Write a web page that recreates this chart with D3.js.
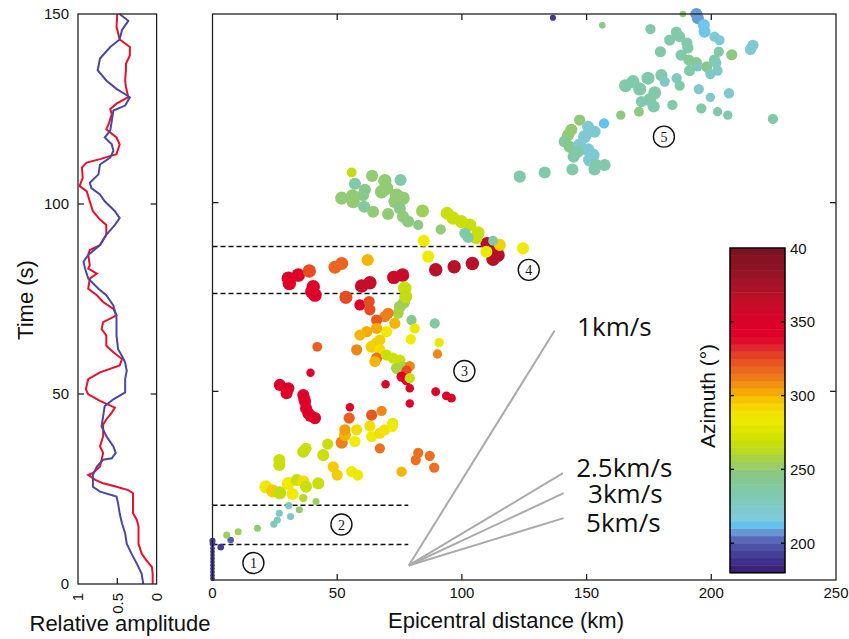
<!DOCTYPE html>
<html>
<head>
<meta charset="utf-8">
<script src="https://cdn.jsdelivr.net/npm/d3@7"></script>
<style>
  body { margin: 0; background: #fff; }
  text { font-family: "Liberation Sans", Arial, sans-serif; fill: #111; }
</style>
</head>
<body>
<svg id="chart" width="849" height="639"></svg>
<script>
/*
EPICENTRAL DISTANCE VS TIME, COLOURED BY AZIMUTH, WITH AMPLITUDE TRACES
*/

// ---- data: events as [distance km, time s, azimuth deg, magnitude] ----
const phase1 = [
  [0, 0.3, 190, 0.4], [0, 1.2, 190, 0.4], [0, 2.1, 190, 0.4], [0, 3.0, 192, 0.4],
  [0, 3.9, 190, 0.4], [0, 4.8, 192, 0.4], [0, 5.7, 190, 0.4], [0, 6.6, 192, 0.4],
  [0, 7.5, 190, 0.4], [0, 8.4, 192, 0.4], [0, 9.6, 190, 0.6], [0, 10.4, 192, 0.7],
  [3.3, 8.7, 192, 0.8], [7.3, 10.6, 200, 0.8]
];
const phase2 = [
  [5.7, 11.9, 255, 0.9], [10.3, 12.8, 255, 0.9], [18.0, 13.7, 250, 0.9], [24.6, 14.8, 232, 0.9],
  [26.0, 15.9, 228, 0.9], [26.8, 17.7, 225, 0.9], [31.3, 16.8, 225, 0.9], [30.6, 19.7, 228, 0.9],
  [34.8, 18.6, 252, 0.9], [41.5, 20.8, 255, 0.9], [36.4, 21.7, 262, 1.2]
];
const phase3 = [
  [21.4, 24.7, 283, 2.2], [24.1, 23.6, 296, 2.2], [27.0, 23.1, 265, 2.2], [30.4, 25.6, 285, 2.2],
  [32.1, 22.8, 285, 2.0], [33.8, 26.5, 268, 2.0], [36.4, 26.1, 290, 2.0], [37.5, 24.7, 268, 2.0],
  [42.4, 25.6, 268, 2.0], [26.8, 31.8, 268, 2.0], [26.8, 30.5, 268, 2.0], [36.4, 34.0, 265, 2.0],
  [37.5, 34.9, 268, 1.8], [44.4, 33.1, 268, 2.0], [46.2, 36.0, 268, 1.8], [48.4, 30.0, 296, 1.8],
  [50.0, 27.8, 296, 1.8], [55.8, 28.7, 285, 1.8], [58.2, 27.8, 283, 1.8], [51.8, 36.4, 312, 2.0],
  [53.1, 38.4, 300, 2.0], [53.1, 39.8, 305, 1.8], [57.8, 39.8, 290, 1.8], [57.1, 36.7, 285, 1.8],
  [54.8, 42.9, 320, 1.8], [55.1, 45.8, 345, 1.2], [63.1, 40.8, 290, 1.8], [63.8, 38.0, 285, 1.8],
  [63.8, 43.7, 322, 1.8], [67.8, 44.8, 310, 1.6], [67.1, 38.9, 290, 1.8], [69.1, 39.8, 288, 1.8],
  [72.2, 41.5, 282, 1.8], [72.2, 40.6, 285, 1.6], [67.1, 34.9, 315, 1.6], [75.8, 28.7, 300, 1.6],
  [82.5, 33.7, 315, 1.6], [81.5, 31.8, 315, 1.6], [87.1, 32.9, 315, 1.6], [88.9, 29.8, 315, 1.6],
  // red column
  [27.0, 51.7, 345, 2.0], [30.4, 50.8, 345, 2.0], [29.7, 49.5, 345, 2.0], [36.4, 49.0, 345, 2.0],
  [37.1, 47.3, 345, 2.0], [37.5, 45.5, 345, 2.0], [38.4, 44.2, 345, 2.0], [41.1, 42.9, 345, 2.0],
  [39.3, 43.5, 345, 2.0], [36.8, 48.0, 345, 2.0],
  // 50 - 75 s
  [39.3, 54.9, 345, 1.2], [42.0, 61.8, 320, 1.5], [59.1, 72.9, 345, 1.8], [62.8, 73.8, 325, 1.8],
  [63.1, 71.6, 325, 1.8], [75.1, 72.4, 255, 2.0], [76.7, 73.5, 255, 2.0], [74.4, 70.7, 258, 1.8],
  [70.4, 70.7, 312, 1.8], [69.1, 69.8, 312, 1.8], [65.8, 68.9, 322, 1.8], [79.8, 68.9, 245, 1.6],
  [81.1, 66.7, 282, 1.6], [89.1, 68.0, 238, 1.6], [73.1, 68.0, 300, 1.8], [69.8, 65.8, 285, 1.8],
  [65.8, 66.7, 302, 1.8], [61.8, 65.8, 302, 1.8], [59.1, 64.9, 300, 1.8], [67.1, 63.6, 295, 1.8],
  [63.8, 61.8, 295, 2.0], [65.8, 62.7, 295, 2.0], [67.1, 61.0, 290, 1.8], [57.8, 61.0, 310, 1.8],
  [65.8, 58.8, 315, 1.8], [65.1, 57.9, 300, 1.8], [69.8, 59.6, 268, 1.8], [72.4, 58.8, 270, 1.8],
  [75.1, 58.3, 270, 1.8], [73.8, 56.1, 258, 1.8], [76.4, 56.5, 258, 1.8], [79.1, 56.7, 310, 1.6],
  [77.8, 55.5, 325, 1.6], [75.8, 53.9, 345, 1.6], [77.8, 53.0, 345, 1.6], [79.1, 53.5, 268, 1.6],
  [79.1, 50.8, 350, 1.2], [79.5, 63.8, 285, 1.6], [90.9, 62.9, 282, 1.4], [90.2, 59.9, 310, 1.4],
  [69.4, 51.9, 350, 1.2], [89.5, 49.9, 350, 1.3], [93.8, 48.8, 350, 1.3], [95.8, 48.2, 350, 1.3],
  [79.1, 46.8, 350, 1.2]
];
const phase4 = [
  [30.4, 80.0, 345, 2.3], [30.8, 78.6, 345, 2.3], [34.4, 80.8, 345, 2.3], [38.8, 81.9, 325, 2.3],
  [40.4, 77.7, 342, 2.3], [39.8, 76.4, 342, 2.3], [41.1, 75.5, 342, 2.3], [49.1, 82.9, 318, 2.2],
  [51.8, 83.9, 318, 2.2], [53.5, 74.9, 325, 2.2], [62.2, 84.8, 300, 2.0], [59.8, 77.9, 2, 2.3],
  [63.1, 78.8, 2, 2.3], [72.7, 80.2, 0, 2.3], [76.2, 80.8, 0, 2.3], [77.1, 77.3, 268, 2.3],
  [77.5, 75.1, 265, 2.2], [89.5, 82.2, 8, 2.3], [96.9, 83.0, 8, 2.3], [104.2, 83.9, 8, 2.3],
  [110.1, 89.1, 10, 2.3], [112.5, 88.5, 10, 2.3], [114.5, 86.1, 10, 2.3], [112.5, 85.0, 10, 2.3],
  [109.8, 87.0, 283, 2.0], [115.2, 88.8, 295, 2.0], [112.5, 89.9, 235, 1.5], [124.5, 87.9, 285, 2.0],
  [86.5, 85.7, 285, 2.0], [84.7, 89.9, 285, 2.0],
  // green group
  [55.8, 108.0, 265, 1.5], [57.1, 105.0, 235, 2.0], [64.0, 107.1, 250, 2.0], [69.1, 105.8, 250, 2.3],
  [69.8, 103.8, 250, 2.3], [67.8, 102.9, 250, 2.3], [75.4, 106.0, 235, 2.0], [61.1, 103.4, 245, 2.0],
  [60.4, 102.0, 245, 2.0], [51.8, 101.2, 250, 2.2], [56.4, 100.3, 250, 2.3], [56.1, 101.8, 250, 2.2],
  [60.8, 98.9, 240, 2.0], [64.4, 97.6, 250, 2.0], [70.4, 97.0, 250, 2.0], [73.8, 102.0, 250, 2.3],
  [76.4, 101.2, 250, 2.3], [73.1, 100.3, 250, 2.2], [75.1, 98.5, 245, 2.0], [76.4, 96.3, 250, 2.0],
  [78.4, 95.0, 248, 2.0], [82.5, 94.1, 248, 1.6], [84.2, 97.8, 255, 2.2], [91.5, 92.9, 250, 1.6],
  [94.1, 97.2, 268, 2.2], [96.5, 95.9, 268, 2.2], [99.8, 95.0, 268, 2.2], [103.2, 94.1, 268, 2.2],
  [106.5, 92.0, 268, 2.2], [105.8, 90.6, 268, 2.0], [101.2, 91.9, 235, 1.8], [102.5, 90.8, 235, 1.8],
  [122.9, 107.1, 235, 1.6]
];
const phase5 = [
  [136.5, 149.0, 190, 0.7], [156.3, 147.0, 245, 0.8], [188.6, 150.0, 250, 0.8], [194.0, 150.0, 208, 2.0],
  [194.6, 148.9, 208, 2.0], [197.0, 147.1, 214, 2.0], [197.3, 145.3, 214, 2.0], [201.3, 144.0, 220, 1.6],
  [203.3, 143.1, 220, 1.6], [175.6, 146.0, 235, 1.6], [186.0, 145.2, 235, 1.8], [187.3, 144.0, 235, 1.8],
  [183.3, 143.1, 235, 1.8], [190.2, 142.3, 235, 1.8], [190.6, 141.0, 235, 1.8], [179.6, 140.0, 235, 1.8],
  [187.9, 139.1, 235, 1.8], [191.0, 137.8, 240, 1.8], [194.0, 137.1, 245, 1.8], [198.2, 136.0, 245, 1.8],
  [191.3, 135.0, 235, 1.8], [201.3, 137.8, 235, 1.8], [203.0, 140.0, 235, 1.6], [202.0, 137.0, 228, 1.6],
  [202.5, 135.0, 225, 1.6], [199.6, 134.1, 225, 1.6], [194.5, 136.0, 225, 1.4], [208.2, 139.2, 248, 1.8],
  [216.7, 141.7, 220, 1.8], [215.7, 140.6, 220, 1.8], [180.0, 133.8, 235, 2.0], [181.3, 132.1, 225, 1.6],
  [186.1, 133.0, 228, 1.6], [187.3, 131.0, 235, 1.6], [195.0, 130.1, 222, 1.6], [199.6, 127.9, 222, 1.4],
  [207.1, 129.0, 220, 1.6], [196.0, 125.0, 235, 1.6], [202.5, 124.1, 235, 1.4], [206.6, 123.2, 235, 1.4],
  [224.7, 122.2, 235, 1.6], [184.4, 125.9, 235, 1.6], [174.6, 133.0, 235, 2.2], [168.6, 132.1, 235, 2.2],
  [165.6, 131.0, 235, 2.2], [171.3, 130.1, 235, 2.2], [177.3, 129.1, 235, 2.2], [175.3, 127.3, 235, 2.2],
  [176.9, 125.5, 235, 2.0], [172.0, 126.8, 235, 1.8], [163.7, 123.2, 248, 1.4], [171.0, 124.1, 248, 1.5],
  [157.0, 121.0, 212, 1.6], [147.2, 121.9, 250, 1.8], [143.9, 119.3, 250, 2.0], [142.6, 117.9, 250, 2.0],
  [141.2, 116.2, 240, 2.0], [143.2, 114.8, 245, 2.0], [150.6, 120.1, 220, 2.0], [153.2, 118.8, 220, 2.0],
  [149.2, 117.5, 220, 2.2], [147.2, 115.3, 220, 2.2], [150.6, 114.0, 220, 2.2], [152.6, 112.6, 220, 2.2],
  [151.2, 111.3, 220, 2.2], [153.9, 110.0, 235, 2.0], [157.2, 110.0, 235, 2.0], [144.8, 112.2, 235, 2.0],
  [146.5, 113.5, 235, 2.0], [144.3, 108.8, 235, 2.0], [153.2, 108.8, 235, 2.0], [133.2, 108.0, 235, 2.0],
  [123.2, 106.9, 235, 2.0]
];

// amplitude traces (time s, relative amplitude)
const redTime = [150, 146.7, 143.3, 141.3, 139.1, 136.9, 135.2, 132.5, 130.8, 128.1, 126.4, 125.0, 123.7, 121.0,
  119.7, 118.8, 117.5, 115.7, 113.1, 111.8, 110.9, 109.6, 106.9, 104.7, 103.4, 100.7, 98.1, 95.9, 94.5, 91.9,
  89.2, 87.9, 86.6, 83.9, 83.0, 81.7, 80.4, 77.7, 76.0, 74.2, 72.4, 70.7, 68.9, 67.1, 65.4, 62.7, 61.0, 59.2,
  57.5, 55.7, 53.9, 51.3, 49.9, 48.2, 46.4, 45.1, 43.3, 42.0, 38.9, 36.2, 34.5, 30.9, 29.2, 28.7, 27.4, 26.5,
  25.6, 24.7, 23.9, 22.1, 18.6, 16.8, 15.1, 12.4, 10.6, 8.0, 6.2, 4.5, 2.7, 0];
const redAmp = [0.50, 0.51, 0.47, 0.34, 0.34, 0.39, 0.39, 0.40, 0.39, 0.36, 0.51, 0.59, 0.57, 0.61,
  0.64, 0.59, 0.51, 0.47, 0.51, 0.72, 0.89, 0.95, 0.94, 0.98, 0.89, 0.85, 0.81, 0.72, 0.64, 0.64,
  0.72, 0.85, 0.87, 0.85, 0.87, 0.76, 0.85, 0.87, 0.76, 0.68, 0.55, 0.51, 0.68, 0.70, 0.64, 0.64, 0.55, 0.44,
  0.47, 0.72, 0.87, 0.90, 0.87, 0.72, 0.53, 0.57, 0.64, 0.68, 0.68, 0.72, 0.68, 0.72, 0.81, 0.87, 0.78, 0.68,
  0.51, 0.36, 0.30, 0.30, 0.30, 0.25, 0.23, 0.23, 0.23, 0.19, 0.13, 0.06, 0.05, 0.05];
const blueTime = [150, 148.2, 145.8, 143.3, 141.3, 138.3, 135.2, 132.5, 130.3, 128.1, 125.9, 124.6, 121.9, 119.3,
  117.5, 115.7, 114.0, 112.2, 110.4, 107.8, 105.6, 104.2, 102.5, 100.7, 98.1, 96.3, 94.5, 91.9, 89.2, 86.6,
  84.8, 83.0, 80.4, 77.7, 76.0, 73.3, 70.2, 65.4, 61.8, 59.6, 58.3, 56.1, 53.9, 50.4, 48.6, 46.8, 44.2, 41.5,
  38.9, 36.2, 34.5, 33.1, 32.7, 30.9, 28.7, 25.6, 24.3, 23.0, 21.2, 18.6, 15.9, 13.3, 10.6, 8.0, 5.3, 2.7, 0];
const blueAmp = [0.47, 0.36, 0.44, 0.47, 0.59, 0.72, 0.75, 0.64, 0.51, 0.34, 0.40, 0.55, 0.57, 0.59,
  0.66, 0.57, 0.55, 0.59, 0.72, 0.74, 0.85, 0.83, 0.72, 0.66, 0.53, 0.47, 0.53, 0.64, 0.72, 0.87,
  0.93, 0.91, 0.87, 0.74, 0.64, 0.55, 0.51, 0.51, 0.49, 0.43, 0.40, 0.38, 0.40, 0.40, 0.55, 0.66, 0.68, 0.70,
  0.64, 0.55, 0.52, 0.57, 0.68, 0.76, 0.81, 0.81, 0.72, 0.51, 0.49, 0.47, 0.44, 0.40, 0.38, 0.32, 0.25, 0.19, 0.17];

// phase boundaries (dashed) and labels
const boundaryTime = [9.4, 19.8, 75.9, 88.4];
const boundaryEndKm = [78.5, 78.5, 78.5, 110];
const phaseIds = ["1", "2", "3", "4", "5"];
const phaseLabelKm = [16.4, 51.7, 101.0, 126.8, 181.0];
const phaseLabelTime = [4.5, 14.7, 55.4, 82.2, 117.5];

// velocity reference lines
const velOrigin = [78.7, 3.85];
const velNames = ["1km/s", "2.5km/s", "3km/s", "5km/s"];
const velEndKm = [137.2, 140.5, 140.8, 140.8];
const velEndTime = [66.1, 28.3, 23.0, 16.4];
const velLabelKm = [146.2, 145.8, 150.6, 149.8];
const velLabelTime = [64.7, 27.3, 20.4, 12.7];

// axes
const distTicks = [0, 50, 100, 150, 200, 250];
const timeTicks = [0, 50, 100, 150];
const ampTicks = [1, 0.5, 0];
const ampTickLabels = ["1", "0.5", "0"];

// colour bar
const azStops = [180, 188, 196, 203, 207, 212, 216, 222, 233, 247, 256, 265, 274, 285, 295, 301, 308,
  315, 324, 331, 340, 350, 365, 383, 400];
const azColors = ["#3a1a70", "#40308a", "#4a4aa0", "#5a6ab8", "#6a90d0", "#62c0f0", "#7ccce0", "#80c8cc",
  "#7fc9b0", "#8ac886", "#a2d050", "#c2dc10", "#d8e400", "#f0ea00", "#f5d000", "#f5b000", "#f09010",
  "#ec7020", "#e85020", "#e0302a", "#e0002a", "#dc0028", "#c0102a", "#951525", "#7a1020"];
const cbTicks = [200, 250, 300, 350, 400];
const cbTickLabels = ["200", "250", "300", "350", "40"];

// ---- scales ----
const svg = d3.select("#chart");
const x = d3.scaleLinear().domain([0, 250]).range([212.5, 836]);
const y = d3.scaleLinear().domain([0, 150]).range([580, 14]);
const yL = d3.scaleLinear().domain([0, 150]).range([584, 14]);
const ampX = d3.scaleLinear().domain([1, 0]).range([78, 156.6]);
const radius = d3.scaleLinear().domain([0.4, 2.5]).range([2.4, 7.2]);
const azColor = d3.scaleLinear().domain(azStops).range(azColors).clamp(true);
const unwrap = (a) => (a < 180 ? a + 360 : a);
const cb = d3.scaleLinear().domain([180, 400]).range([572.7, 248]);

const frame = "#222";

// ---- left panel: amplitude traces ----
const left = svg.append("g");
const trace = d3.line().x((d) => ampX(d[1])).y((d) => yL(d[0]));

left.append("path")
  .attr("d", trace(d3.zip(redTime, redAmp)))
  .attr("fill", "none").attr("stroke", "#e8102a").attr("stroke-width", 2);
left.append("path")
  .attr("d", trace(d3.zip(blueTime, blueAmp)))
  .attr("fill", "none").attr("stroke", "#4a48a0").attr("stroke-width", 2);

left.append("rect")
  .attr("x", ampX(1)).attr("y", yL(150))
  .attr("width", ampX(0) - ampX(1)).attr("height", yL(0) - yL(150))
  .attr("fill", "none").attr("stroke", frame).attr("stroke-width", 1.3);

// ticks on both sides
timeTicks.filter((t) => t > 0 && t < 150).forEach((t) => {
  left.append("line").attr("x1", ampX(1)).attr("x2", ampX(1) + 6)
    .attr("y1", yL(t)).attr("y2", yL(t)).attr("stroke", frame).attr("stroke-width", 1.3);
  left.append("line").attr("x1", ampX(0)).attr("x2", ampX(0) - 6)
    .attr("y1", yL(t)).attr("y2", yL(t)).attr("stroke", frame).attr("stroke-width", 1.3);
});
left.append("line").attr("x1", ampX(0.5)).attr("x2", ampX(0.5))
  .attr("y1", yL(0)).attr("y2", yL(0) - 6).attr("stroke", frame).attr("stroke-width", 1.3);

left.selectAll()
  .data(timeTicks)
  .enter()
  .append("text")
  .text((d) => d)
  .attr("x", 69)
  .attr("y", (d) => yL(d) + 5)
  .attr("text-anchor", "end")
  .style("font-size", "15px");

left.selectAll()
  .data(ampTicks)
  .enter()
  .append("text")
  .text((d, i) => ampTickLabels[i])
  .attr("transform", (d) => `translate(${ampX(d)},593) rotate(-90)`)
  .attr("dy", "0.36em")
  .attr("text-anchor", "end")
  .style("font-size", "15px");

left.append("text").text("Time (s)")
  .attr("transform", "translate(33,300) rotate(-90)")
  .attr("text-anchor", "middle").style("font-size", "22px");
left.append("text").text("Relative amplitude")
  .attr("x", 120).attr("y", 631)
  .attr("text-anchor", "middle").style("font-size", "22px");

// ---- main panel ----
const main = svg.append("g");

// phase boundaries
main.selectAll()
  .data(boundaryTime)
  .enter()
  .append("line")
  .attr("x1", x(0))
  .attr("x2", (d, i) => x(boundaryEndKm[i]))
  .attr("y1", (d) => y(d))
  .attr("y2", (d) => y(d))
  .attr("stroke", "#111")
  .attr("stroke-width", 1.5)
  .attr("stroke-dasharray", "5,3");

// velocity lines
main.selectAll()
  .data(velNames)
  .enter()
  .append("line")
  .attr("x1", x(velOrigin[0]))
  .attr("y1", y(velOrigin[1]))
  .attr("x2", (d, i) => x(velEndKm[i]))
  .attr("y2", (d, i) => y(velEndTime[i]))
  .attr("stroke", "#aaa")
  .attr("stroke-width", 2);

main.selectAll()
  .data(velNames)
  .enter()
  .append("text")
  .text((d) => d)
  .attr("x", (d, i) => x(velLabelKm[i]))
  .attr("y", (d, i) => y(velLabelTime[i]))
  .style("font-family", "'Open Sans', sans-serif")
  .style("font-size", "26px");

// events
const events = [].concat(phase1, phase2, phase3, phase4, phase5);
main.selectAll()
  .data(events)
  .enter()
  .append("circle")
  .attr("cx", (d) => x(d[0]))
  .attr("cy", (d) => y(d[1]))
  .attr("r", (d) => radius(d[3]))
  .attr("fill", (d) => azColor(unwrap(d[2])));

// circled phase numbers
const marks = main.selectAll()
  .data(phaseIds)
  .enter()
  .append("g")
  .attr("transform", (d, i) => `translate(${x(phaseLabelKm[i])},${y(phaseLabelTime[i])})`);
marks.append("circle").attr("r", 10.5)
  .attr("fill", "none").attr("stroke", "#111").attr("stroke-width", 1.4);
marks.append("text").text((d) => d)
  .attr("text-anchor", "middle").attr("dy", "0.36em")
  .style("font-family", "'Liberation Serif', serif").style("font-size", "14px");

// frame
main.append("rect")
  .attr("x", x(0)).attr("y", y(150))
  .attr("width", x(250) - x(0)).attr("height", y(0) - y(150))
  .attr("fill", "none").attr("stroke", frame).attr("stroke-width", 1.3);

distTicks.filter((d) => d > 0 && d < 250).forEach((d) => {
  main.append("line").attr("x1", x(d)).attr("x2", x(d))
    .attr("y1", y(0)).attr("y2", y(0) - 6).attr("stroke", frame).attr("stroke-width", 1.3);
  main.append("line").attr("x1", x(d)).attr("x2", x(d))
    .attr("y1", y(150)).attr("y2", y(150) + 6).attr("stroke", frame).attr("stroke-width", 1.3);
});
timeTicks.filter((t) => t > 0 && t < 150).forEach((t) => {
  main.append("line").attr("x1", x(0)).attr("x2", x(0) + 6)
    .attr("y1", y(t)).attr("y2", y(t)).attr("stroke", frame).attr("stroke-width", 1.3);
  main.append("line").attr("x1", x(250)).attr("x2", x(250) - 6)
    .attr("y1", y(t)).attr("y2", y(t)).attr("stroke", frame).attr("stroke-width", 1.3);
});

main.selectAll()
  .data(distTicks)
  .enter()
  .append("text")
  .text((d) => d)
  .attr("x", (d) => x(d))
  .attr("y", 598)
  .attr("text-anchor", "middle")
  .style("font-size", "15px");

main.append("text").text("Epicentral distance (km)")
  .attr("x", 506).attr("y", 628)
  .attr("text-anchor", "middle").style("font-size", "22px");

// ---- colour bar ----
const bar = svg.append("g");
const bands = d3.range(180, 400, 5);
bar.selectAll()
  .data(bands)
  .enter()
  .append("rect")
  .attr("x", 730)
  .attr("width", 55)
  .attr("y", (d) => cb(d + 5))
  .attr("height", (d) => cb(d) - cb(d + 5) + 0.5)
  .attr("fill", (d) => azColor(d + 2.5));

bar.append("rect")
  .attr("x", 730).attr("y", cb(400))
  .attr("width", 55).attr("height", cb(180) - cb(400))
  .attr("fill", "none").attr("stroke", "#000").attr("stroke-width", 1.5);

cbTicks.filter((t) => t < 400).forEach((t) => {
  bar.append("line").attr("x1", 730).attr("x2", 734)
    .attr("y1", cb(t)).attr("y2", cb(t)).attr("stroke", "#000").attr("stroke-width", 1.3);
  bar.append("line").attr("x1", 785).attr("x2", 781)
    .attr("y1", cb(t)).attr("y2", cb(t)).attr("stroke", "#000").attr("stroke-width", 1.3);
});

bar.selectAll()
  .data(cbTicks)
  .enter()
  .append("text")
  .text((d, i) => cbTickLabels[i])
  .attr("x", 790)
  .attr("y", (d) => cb(d) + 5.5)
  .style("font-size", "15px");

bar.append("text").text("Azimuth (°)")
  .attr("transform", "translate(715,396) rotate(-90)")
  .attr("text-anchor", "middle").style("font-size", "21px");
</script>
</body>
</html>
